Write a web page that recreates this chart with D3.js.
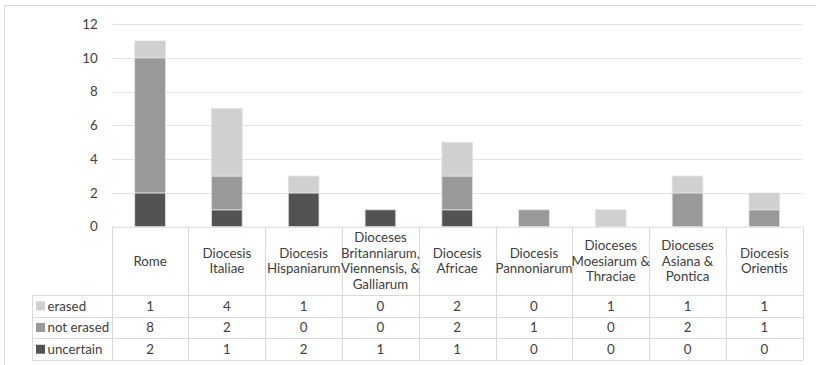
<!DOCTYPE html>
<html><head><meta charset="utf-8">
<script src="https://cdn.jsdelivr.net/npm/d3@7"></script>
<style>
html,body{margin:0;padding:0;background:#fff;}
svg{display:block;}
text{font-family:Lato,"Open Sans",sans-serif;fill:#404040;}
</style></head>
<body>
<svg id="chart" width="816" height="365"></svg>
<script>
const categories = ["Rome","Diocesis\nItaliae","Diocesis\nHispaniarum","Dioceses\nBritanniarum,\nViennensis, &\nGalliarum","Diocesis\nAfricae","Diocesis\nPannoniarum","Dioceses\nMoesiarum &\nThraciae","Dioceses\nAsiana &\nPontica","Diocesis\nOrientis"];
const erased    = [1,4,1,0,2,0,1,1,1];
const notErased = [8,2,0,0,2,1,0,2,1];
const uncertain = [2,1,2,1,1,0,0,0,0];
const seriesNames = ["erased","not erased","uncertain"];
const seriesColors = ["#cfd0d0","#999999","#535353"];
const yTicks = [0,2,4,6,8,10,12];

(function(){
const svg = d3.select("#chart");
const pLeft = 111.7, pRight = 802.7, pTop = 24, pBottom = 226.7;
const headerBottom = 295, rowH = 21.7, legendLeft = 32.3;
const fs = "13.3px";

svg.append("rect").attr("x",4.5).attr("y",5.5).attr("width",900).attr("height",400)
  .attr("fill","none").attr("stroke","#d9d9d9");

const x = d3.scaleBand().domain(categories).range([pLeft,pRight]).padding(0);
const xb = d3.scaleBand().domain(categories).range([pLeft,pRight]).paddingInner(0.6).paddingOuter(0.3);
const y = d3.scaleLinear().domain([0,12]).range([pBottom,pTop]);

svg.append("g").selectAll("line").data(yTicks.filter(t=>t>0)).join("line")
  .attr("x1",pLeft).attr("x2",pRight)
  .attr("y1",d=>Math.round(y(d))+0.5).attr("y2",d=>Math.round(y(d))+0.5)
  .attr("stroke","#e3e3e3").attr("stroke-width",1);

const yAxis = d3.axisLeft(y).tickValues(yTicks).tickSize(0).tickPadding(14);
const ga = svg.append("g").attr("transform",`translate(${pLeft},0)`).call(yAxis);
ga.select(".domain").remove();
ga.selectAll("text").style("font-family","Lato,sans-serif").style("font-size",fs).attr("fill","#404040");

const rows = categories.map((c,i)=>({cat:c,"erased":erased[i],"not erased":notErased[i],"uncertain":uncertain[i]}));
const stack = d3.stack().keys(["uncertain","not erased","erased"])(rows);
const colorOf = k => seriesColors[seriesNames.indexOf(k)];
svg.append("g").selectAll("g").data(stack).join("g")
  .attr("fill",s=>colorOf(s.key))
  .selectAll("rect").data(s=>s.filter(d=>d[1]>d[0])).join("rect")
  .attr("x",d=>xb(d.data.cat)).attr("width",xb.bandwidth())
  .attr("y",d=>y(d[1])).attr("height",d=>y(d[0])-y(d[1]))
  .attr("stroke","#e2e2e2").attr("stroke-width",0.8);

const tableStroke = "#d9d9d9";
const tg = svg.append("g");
const tableBottom = headerBottom + rowH*3;
tg.append("line").attr("x1",pLeft).attr("x2",pRight).attr("y1",pBottom+0.5).attr("y2",pBottom+0.5).attr("stroke",tableStroke);
[0,1,2,3].forEach(r=>{
  const yy = Math.round(headerBottom + r*rowH)+0.5;
  tg.append("line").attr("x1",legendLeft).attr("x2",pRight).attr("y1",yy).attr("y2",yy).attr("stroke",tableStroke);
});
const colEdges = categories.map(c=>x(c)).concat([pRight]);
tg.selectAll("line.v").data(colEdges).join("line").attr("class","v")
  .attr("x1",d=>Math.round(d)+0.5).attr("x2",d=>Math.round(d)+0.5)
  .attr("y1",pBottom).attr("y2",tableBottom).attr("stroke",tableStroke);
tg.append("line").attr("x1",Math.round(legendLeft)+0.5).attr("x2",Math.round(legendLeft)+0.5)
  .attr("y1",headerBottom).attr("y2",tableBottom).attr("stroke",tableStroke);

const lineH = 15.8;
categories.forEach(c=>{
  const lines = c.split("\n");
  const cx = x(c)+x.bandwidth()/2;
  const cy = (pBottom+headerBottom)/2;
  const t = tg.append("text").attr("text-anchor","middle").style("font-size",fs);
  lines.forEach((ln,i)=>{
    t.append("tspan").attr("x",cx).attr("y",cy + (i-(lines.length-1)/2)*lineH).attr("dy","0.35em").text(ln);
  });
});

const seriesValues = [erased,notErased,uncertain];
seriesNames.forEach((name,r)=>{
  const cy = headerBottom + r*rowH + rowH/2;
  tg.append("rect").attr("x",36).attr("y",cy-4.5).attr("width",9).attr("height",9).attr("fill",seriesColors[r]);
  tg.append("text").attr("x",47.5).attr("y",cy).attr("dy","0.35em").style("font-size",fs).text(name);
  categories.forEach((c,i)=>{
    tg.append("text").attr("x",x(c)+x.bandwidth()/2).attr("y",cy).attr("dy","0.35em")
      .attr("text-anchor","middle").style("font-size",fs).text(seriesValues[r][i]);
  });
});
})();
</script>
</body></html>
